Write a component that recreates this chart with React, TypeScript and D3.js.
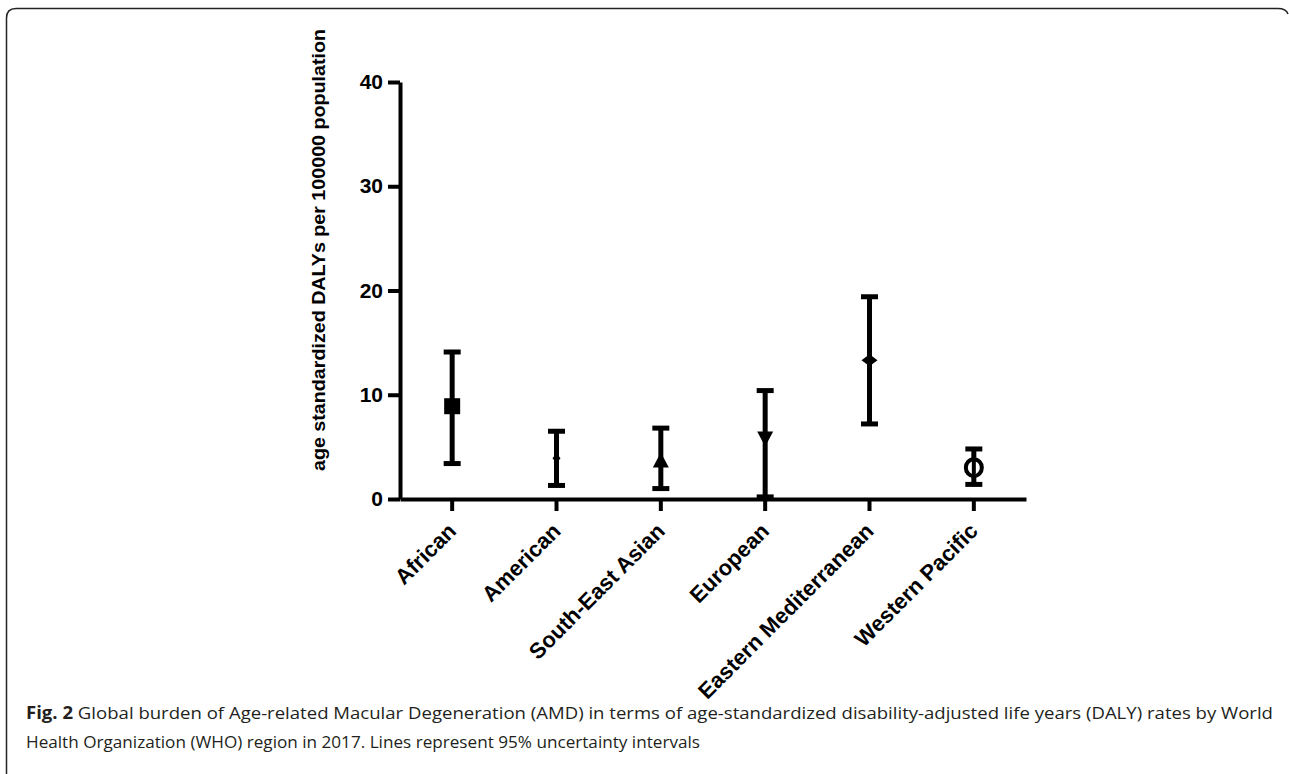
import React, { useEffect, useRef } from 'react';
import * as d3 from 'd3';

// regions and values
const regions = ['African', 'American', 'South-East Asian', 'European', 'Eastern Mediterranean', 'Western Pacific'];
const means = [8.9, 3.9, 3.6, 5.9, 13.3, 3.0];
const lowers = [3.4, 1.3, 1.0, 0.2, 7.2, 1.4];
const uppers = [14.1, 6.5, 6.8, 10.4, 19.4, 4.8];
const markers = ['square', 'smalldiamond', 'triangle', 'triangledown', 'diamond', 'circle'];
const yTicks = [0, 10, 20, 30, 40];

const App = () => {
  const ref = useRef<SVGSVGElement>(null);

  useEffect(() => {
    const svg = d3.select(ref.current);
    svg.selectAll('*').remove();

    const x = d3.scaleBand().domain(regions).range([400, 1026]).padding(0);
    const y = d3.scaleLinear().domain([0, 40]).range([499, 82]);
    const font = "'Liberation Sans', Arial, sans-serif";

    // frame
    svg.append('path')
      .attr('d', 'M6.5,780 L6.5,18 Q6.5,8.5 16,8.5 L1278,8.5 Q1286,8.5 1288,14')
      .attr('fill', 'none')
      .attr('stroke', '#222')
      .attr('stroke-width', 1.5);

    // y axis
    const yAxis = svg.append('g')
      .attr('transform', 'translate(400,0)')
      .call(d3.axisLeft(y).tickValues(yTicks).tickSize(12).tickSizeOuter(0).tickPadding(5));
    yAxis.select('.domain').attr('stroke-width', 4).attr('stroke', '#000');
    yAxis.selectAll('.tick line').attr('stroke-width', 4).attr('stroke', '#000');
    yAxis.selectAll('.tick text')
      .attr('font-family', font)
      .attr('font-weight', 'bold')
      .attr('font-size', 21)
      .attr('fill', '#000');

    // x axis
    const xAxis = svg.append('g')
      .attr('transform', `translate(0,${y(0)})`)
      .call(d3.axisBottom(x).tickSize(12).tickSizeOuter(0));
    xAxis.select('.domain').attr('stroke-width', 4).attr('stroke', '#000');
    xAxis.selectAll('.tick line').attr('stroke-width', 4).attr('stroke', '#000');
    xAxis.selectAll('.tick text')
      .attr('font-family', font)
      .attr('font-weight', 'bold')
      .attr('font-size', 22)
      .attr('fill', '#000')
      .attr('text-anchor', 'end')
      .attr('x', 0)
      .attr('y', 0)
      .attr('dy', '0.35em')
      .attr('transform', 'translate(0,28) rotate(-45)');

    // y label
    svg.append('text')
      .attr('transform', `translate(325,${250}) rotate(-90)`)
      .attr('text-anchor', 'middle')
      .attr('font-family', font)
      .attr('font-weight', 'bold')
      .attr('font-size', 19)
      .attr('textLength', 442)
      .attr('lengthAdjust', 'spacingAndGlyphs')
      .text('age standardized DALYs per 100000 population');

    const g = svg.append('g');
    regions.forEach((r, i) => {
      const cx = x(r)! + x.bandwidth() / 2;
      // error bar
      g.append('line')
        .attr('x1', cx).attr('x2', cx)
        .attr('y1', y(lowers[i])).attr('y2', y(uppers[i]))
        .attr('stroke', '#000').attr('stroke-width', 5);
      [lowers[i], uppers[i]].forEach(v => {
        g.append('line')
          .attr('x1', cx - 8.5).attr('x2', cx + 8.5)
          .attr('y1', y(v)).attr('y2', y(v))
          .attr('stroke', '#000').attr('stroke-width', 5);
      });
      const cy = y(means[i]);
      const m = markers[i];
      if (m === 'square') {
        g.append('rect').attr('x', cx - 8).attr('y', cy - 8).attr('width', 16).attr('height', 16).attr('fill', '#000');
      } else if (m === 'smalldiamond') {
        g.append('path').attr('d', `M${cx},${cy - 5}L${cx + 4},${cy}L${cx},${cy + 5}L${cx - 4},${cy}Z`).attr('fill', '#000');
      } else if (m === 'triangle') {
        g.append('path').attr('d', `M${cx},${cy - 9}L${cx + 8},${cy + 6}L${cx - 8},${cy + 6}Z`).attr('fill', '#000');
      } else if (m === 'triangledown') {
        g.append('path').attr('d', `M${cx},${cy + 9}L${cx + 8},${cy - 6}L${cx - 8},${cy - 6}Z`).attr('fill', '#000');
      } else if (m === 'diamond') {
        g.append('path').attr('d', `M${cx},${cy - 6}L${cx + 8},${cy}L${cx},${cy + 6}L${cx - 8},${cy}Z`).attr('fill', '#000');
      } else if (m === 'circle') {
        g.append('ellipse').attr('cx', cx).attr('cy', cy).attr('rx', 8).attr('ry', 8.5)
          .attr('fill', '#fff').attr('stroke', '#000').attr('stroke-width', 4);
        g.append('line').attr('x1', cx).attr('x2', cx).attr('y1', cy - 8).attr('y2', cy + 8)
          .attr('stroke', '#000').attr('stroke-width', 4);
      }
    });

    // caption
    const cap = svg.append('text')
      .attr('x', 26).attr('y', 719)
      .attr('font-family', "'Open Sans', sans-serif")
      .attr('font-size', 17)
      .attr('fill', '#231f20')
      .attr('textLength', 1247)
      .attr('lengthAdjust', 'spacingAndGlyphs');
    cap.append('tspan').attr('font-weight', 'bold').text('Fig. 2');
    cap.append('tspan').text(' Global burden of Age-related Macular Degeneration (AMD) in terms of age-standardized disability-adjusted life years (DALY) rates by World');
    svg.append('text')
      .attr('x', 26).attr('y', 748)
      .attr('font-family', "'Open Sans', sans-serif")
      .attr('font-size', 17)
      .attr('fill', '#231f20')
      .attr('textLength', 674)
      .attr('lengthAdjust', 'spacingAndGlyphs')
      .text('Health Organization (WHO) region in 2017. Lines represent 95% uncertainty intervals');
  }, []);

  return (
    <svg ref={ref} width={1289} height={774}
      style={{ position: 'absolute', left: 0, top: 0, background: '#fff' }} />
  );
};

export default App;
